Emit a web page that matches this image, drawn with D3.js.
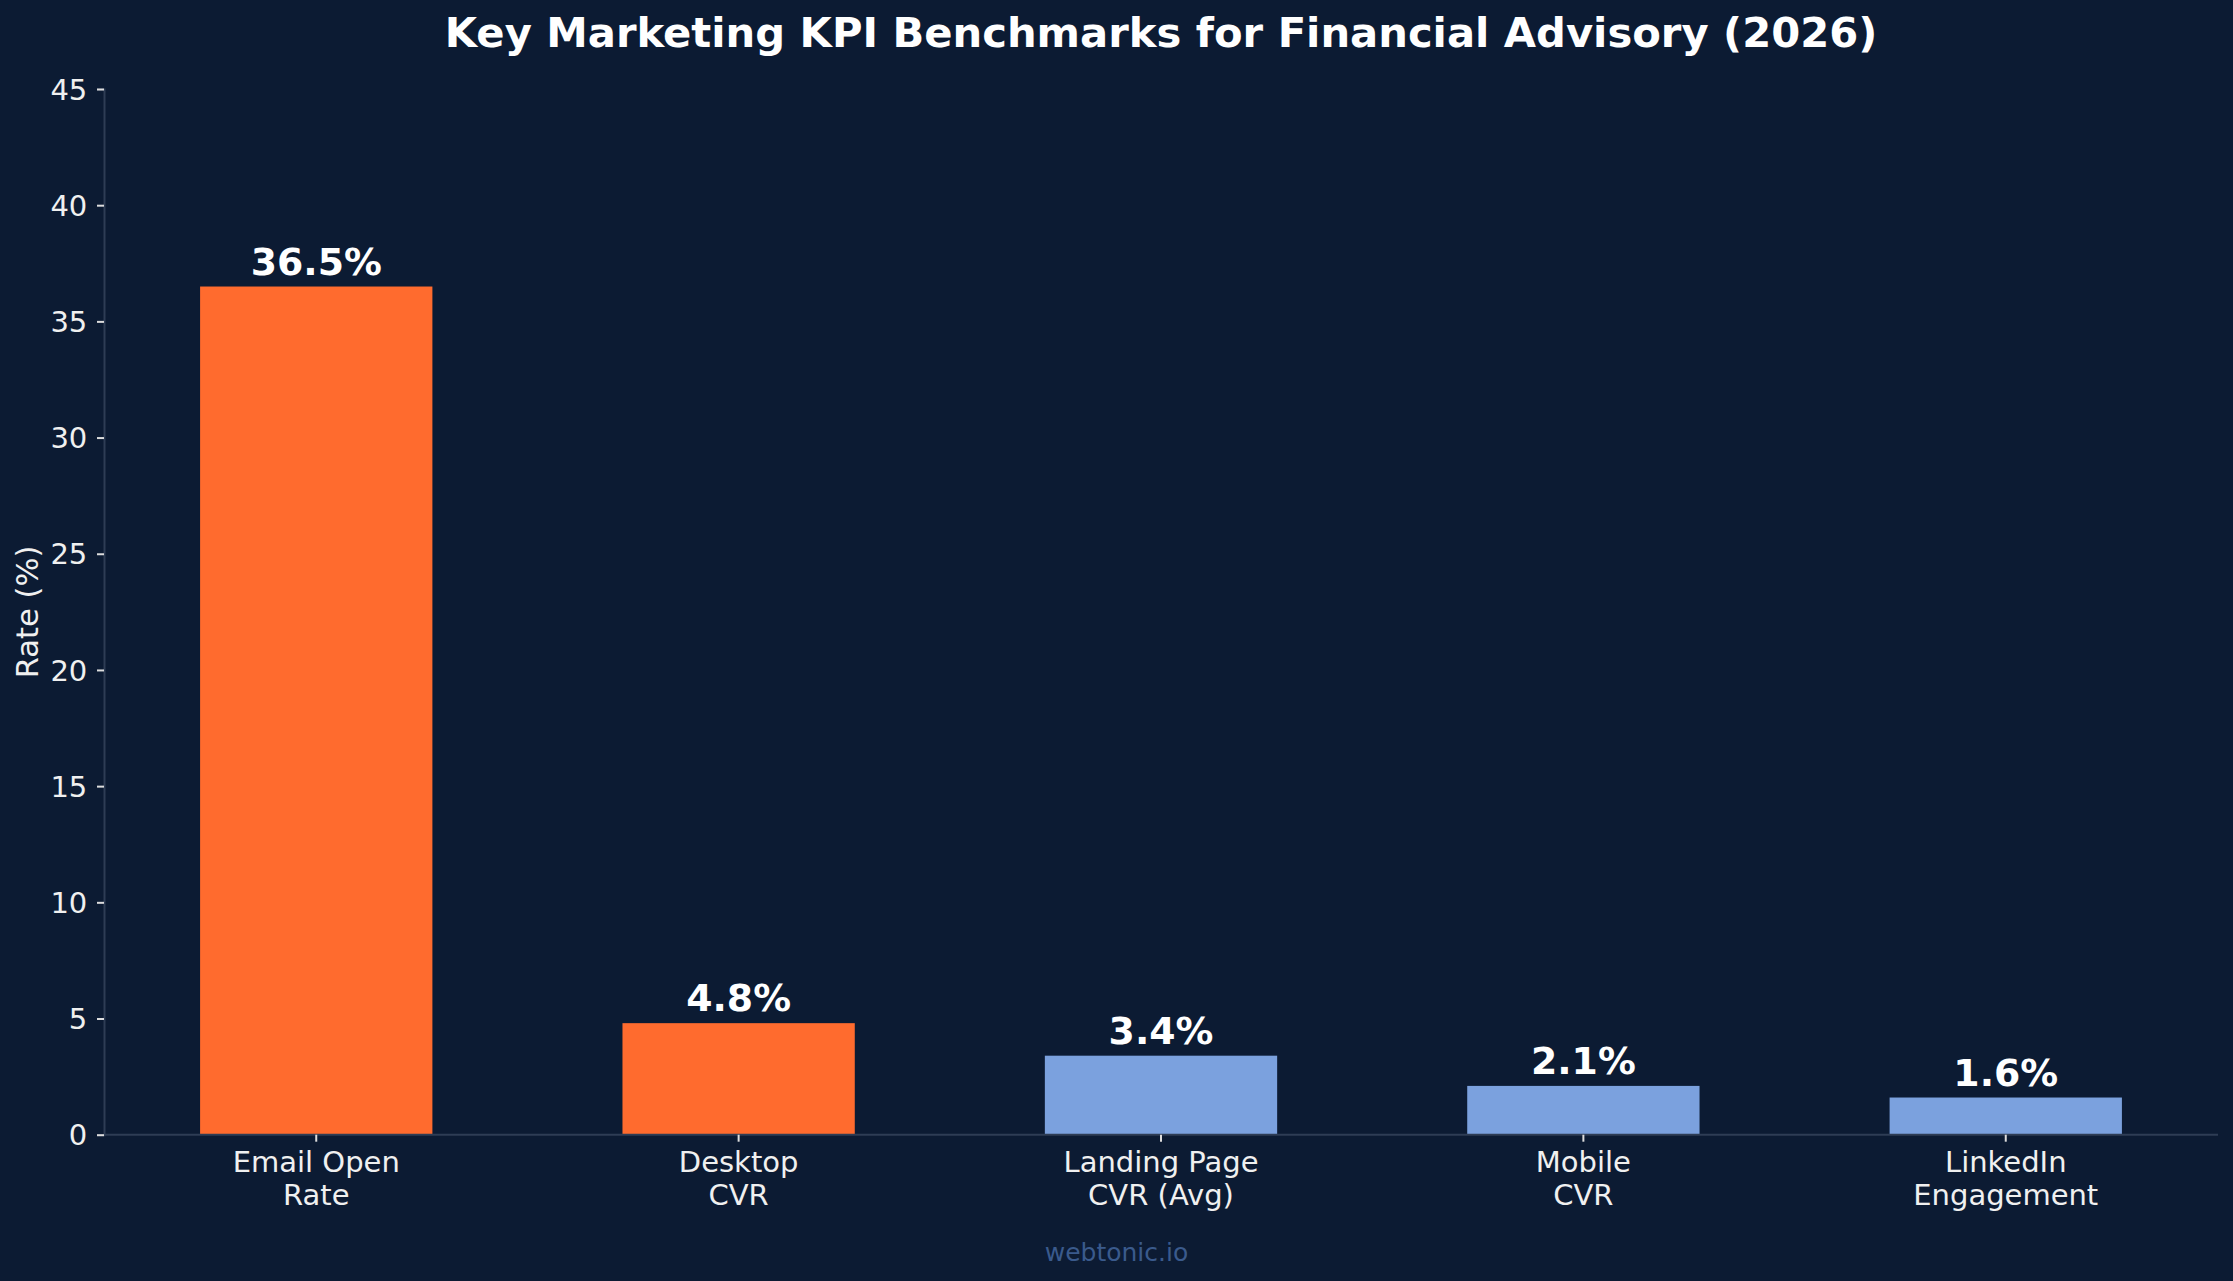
<!DOCTYPE html>
<html>
<head>
<meta charset="utf-8">
<script src="https://cdn.jsdelivr.net/npm/d3@7"></script>
<style>
  html, body { margin: 0; padding: 0; background: #0c1b33; }
  svg { display: block; }
</style>
</head>
<body>
<svg id="chart" width="2233" height="1281"></svg>
<script>
const categories = [["Email Open", "Rate"], ["Desktop", "CVR"], ["Landing Page", "CVR (Avg)"], ["Mobile", "CVR"], ["LinkedIn", "Engagement"]];
const values = [36.5, 4.8, 3.4, 2.1, 1.6];
const highlight = [true, true, false, false, false];
const yTicks = [0, 5, 10, 15, 20, 25, 30, 35, 40, 45];
const titleText = "Key Marketing KPI Benchmarks for Financial Advisory (2026)";
const yLabelText = "Rate (%)";
const watermark = "webtonic.io";

const W = 2233, H = 1281;
const m = { left: 104, right: 2218, top: 89, bottom: 1134.7 };
const font = "DejaVu Sans, sans-serif";
const bg = "#0c1b33", orange = "#ff6b2e", blue = "#7ba1de", spine = "#2e3d55", txt = "#f0f0f0";

const svg = d3.select("#chart");
svg.append("rect").attr("width", W).attr("height", H).attr("fill", bg);

const keys = categories.map((c, i) => i);
const x = d3.scaleBand().domain(keys).range([m.left, m.right]).paddingInner(0.45).paddingOuter(0.2275);
const y = d3.scaleLinear().domain([0, 45]).range([m.bottom, m.top]);

// bars
svg.append("g").selectAll("rect").data(values).join("rect")
  .attr("x", (d, i) => x(i))
  .attr("y", d => y(d))
  .attr("width", x.bandwidth())
  .attr("height", d => y(0) - y(d))
  .attr("fill", (d, i) => highlight[i] ? orange : blue);

// y axis
const yAxis = d3.axisLeft(y).tickValues(yTicks).tickSize(7).tickPadding(9.7).tickFormat(d3.format("d"));
const gy = svg.append("g").attr("transform", `translate(${m.left},0)`).call(yAxis);
gy.select(".domain").attr("stroke", spine).attr("stroke-width", 2);
gy.selectAll(".tick line").attr("stroke", "#dddddd").attr("stroke-width", 2);
gy.selectAll(".tick text").attr("fill", txt).attr("font-family", font).attr("font-size", 29).attr("dy", "0.35em");

// x axis
const xAxis = d3.axisBottom(x).tickSize(7).tickPadding(9.7).tickFormat("");
const gx = svg.append("g").attr("transform", `translate(0,${m.bottom})`).call(xAxis);
gx.select(".domain").attr("stroke", spine).attr("stroke-width", 2).attr("d", `M${m.left},0H${m.right}`);
gx.selectAll(".tick line").attr("stroke", "#dddddd").attr("stroke-width", 2);
gx.selectAll(".tick text").remove();
gx.selectAll(".tick").each(function(d) {
  const t = d3.select(this).append("text")
    .attr("fill", txt).attr("font-family", font).attr("font-size", 29)
    .attr("text-anchor", "middle");
  categories[d].forEach((line, j) => {
    t.append("tspan").attr("x", 0).attr("y", 37 + j * 33.6).text(line);
  });
});

// value labels
svg.append("g").selectAll("text").data(values).join("text")
  .attr("x", (d, i) => x(i) + x.bandwidth() / 2)
  .attr("y", d => y(d) - 11.7)
  .attr("text-anchor", "middle")
  .attr("font-family", font).attr("font-weight", "bold").attr("font-size", 37.8)
  .attr("fill", "#ffffff")
  .text(d => d.toFixed(1) + "%");

// title
svg.append("text")
  .attr("x", (m.left + m.right) / 2).attr("y", 47)
  .attr("text-anchor", "middle")
  .attr("font-family", font).attr("font-weight", "bold").attr("font-size", 41.7)
  .attr("fill", "#ffffff")
  .text(titleText);

// y label
svg.append("text")
  .attr("transform", `translate(38,${(m.top + m.bottom) / 2}) rotate(-90)`)
  .attr("text-anchor", "middle")
  .attr("font-family", font).attr("font-size", 30.6)
  .attr("fill", txt)
  .text(yLabelText);

// watermark
svg.append("text")
  .attr("x", W / 2).attr("y", 1260.7)
  .attr("text-anchor", "middle")
  .attr("font-family", font).attr("font-size", 25)
  .attr("fill", "#3a5a8c")
  .text(watermark);
</script>
</body>
</html>
